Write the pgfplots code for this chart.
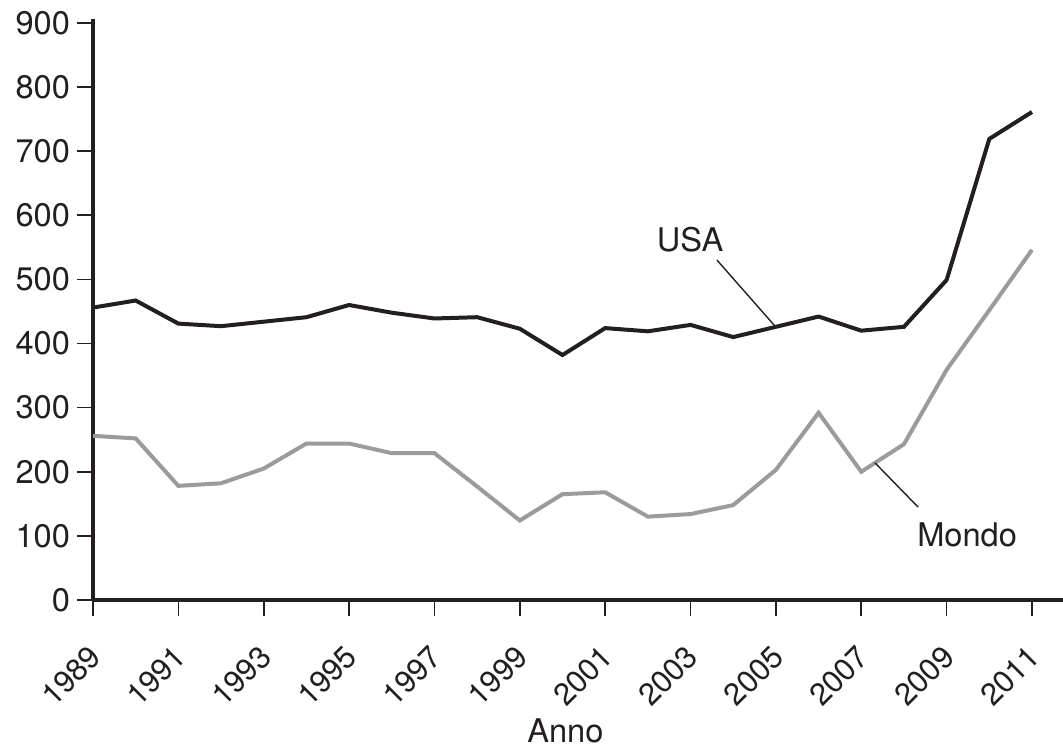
\documentclass[border=0pt]{standalone}
\usepackage{pgfplots}
\pgfplotsset{compat=1.18}
\usepackage{fontspec}
\setmainfont{TeX Gyre Heros}
\definecolor{usacol}{HTML}{231F20}
\definecolor{mondocol}{HTML}{9B9B9B}
\newcommand{\lbl}{\fontsize{16.3}{19}\selectfont}
\newcommand{\xlbl}{\fontsize{15.4}{18}\selectfont}
\begin{document}
\begin{tikzpicture}
\begin{axis}[
  at={(0,0)}, anchor=south west,
  scale only axis,
  width=485pt, height=290.5pt,
  xmin=1989, xmax=2011.727,
  ymin=0, ymax=906,
  axis x line*=bottom, axis y line*=left,
  axis line style={line width=2pt, color=usacol},
  tick align=outside,
  major tick length=8pt,
  tick style={line width=0.8pt, color=usacol},
  xtick={1989,1991,...,2011},
  ytick={0,100,...,900},
  /pgf/number format/assume math mode=true,
  xticklabel={\pgfmathprintnumber[1000 sep={}]{\tick}},
  yticklabel style={font=\lbl, text=usacol},
  xticklabel style={font=\xlbl, text=usacol, rotate=45, anchor=east, xshift=-8.4pt, yshift=-13.3pt},
  xlabel={Anno},
  xlabel style={font=\lbl, text=usacol, at={(axis description cs:0.487,0)}, anchor=base, yshift=-71pt},
  clip=false,
]
\addplot[line width=2pt, color=usacol] coordinates {
(1989,456) (1990,467) (1991,431) (1992,427) (1993,434) (1994,441)
(1995,460) (1996,448) (1997,439) (1998,441) (1999,423) (2000,382)
(2001,424) (2002,419) (2003,429) (2004,410) (2005,426) (2006,442)
(2007,420) (2008,426) (2009,499) (2010,719) (2011,761)
};
\addplot[line width=2pt, color=mondocol] coordinates {
(1989,256) (1990,252) (1991,178) (1992,182) (1993,205) (1994,244)
(1995,244) (1996,229) (1997,229) (1998,177) (1999,124) (2000,165)
(2001,168) (2002,130) (2003,134) (2004,148) (2005,203) (2006,292)
(2007,200) (2008,243) (2009,359) (2010,452) (2011,546)
};
\draw[line width=0.7pt, usacol] (axis cs:2003.62,530) -- (axis cs:2004.98,427);
\draw[line width=0.7pt, usacol] (axis cs:2007.32,214) -- (axis cs:2008.33,145);
\node[font=\lbl, text=usacol, anchor=base, inner sep=0pt] at (axis cs:2002.99,543) {USA};
\node[font=\lbl, text=usacol, anchor=base, inner sep=0pt] at (axis cs:2009.48,84) {Mondo};
\end{axis}
\pgfresetboundingbox
\useasboundingbox (-46.5pt,-74.5pt) rectangle (485pt,300pt);
\end{tikzpicture}
\end{document}
